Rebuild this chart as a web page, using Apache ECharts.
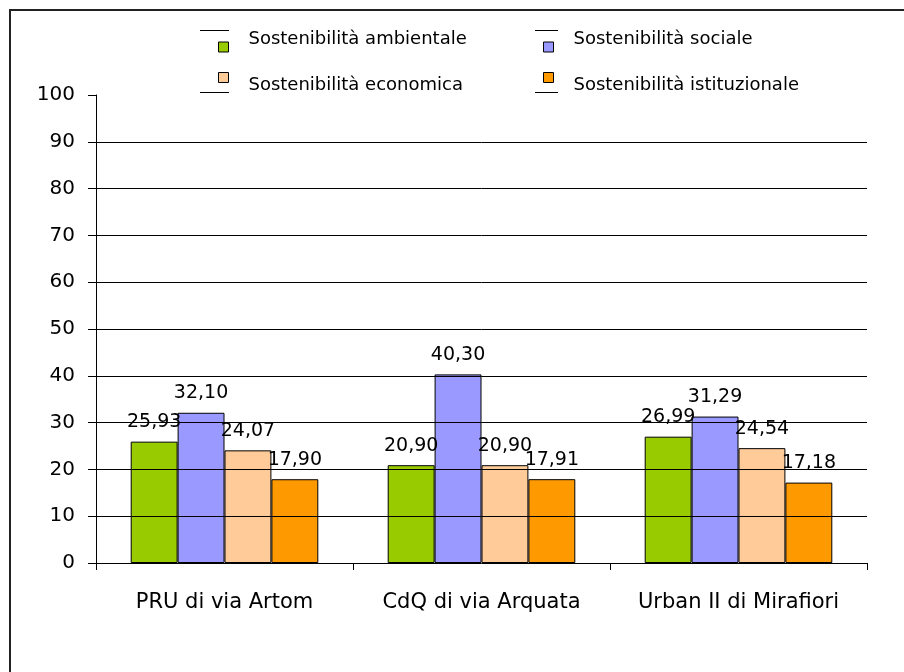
<!DOCTYPE html>
<html><head><meta charset="utf-8">
<script src="https://cdn.jsdelivr.net/npm/echarts@6/dist/echarts.min.js"></script>
<style>html,body{margin:0;padding:0;background:#fff}#c{width:904px;height:672px}</style>
</head><body><div id="c"></div>
<script>
const categories = ["PRU di via Artom", "CdQ di via Arquata", "Urban II di Mirafiori"];
const seriesNames = ["Sostenibilità ambientale", "Sostenibilità sociale", "Sostenibilità economica", "Sostenibilità istituzionale"];
const ambientale = [25.93, 20.90, 26.99];
const sociale = [32.10, 40.30, 31.29];
const economica = [24.07, 20.90, 24.54];
const istituzionale = [17.90, 17.91, 17.18];
const colors = ["#99cc00", "#9999ff", "#ffcc99", "#ff9900"];
const gridValues = [10, 20, 30, 40, 50, 60, 70, 80, 90];

const values = [ambientale, sociale, economica, istituzionale];
const font = "DejaVu Sans";
const chart = echarts.init(document.getElementById('c'));
// [left, top, row]
const legendPos = [[218, 30, 'up'], [543, 30, 'up'], [218, 72, 'down'], [543, 72, 'down']];
const series = values.map((v, i) => ({
  name: seriesNames[i], type: 'bar', data: v, barGap: '0%', barCategoryGap: '27%',
  itemStyle: { color: colors[i], borderColor: '#000', borderWidth: 1 },
  label: { show: true, position: 'top', distance: 10, color: '#000', fontFamily: font, fontSize: 19,
    formatter: p => p.value.toFixed(2).replace('.', ',') },
  markLine: i === 0 ? { silent: true, symbol: 'none', animation: false,
    lineStyle: { color: '#000', width: 1, type: 'solid' }, label: { show: false },
    data: gridValues.map(g => ({ yAxis: g })) } : undefined,
  z: 3
}));
chart.setOption({
  animation: false,
  backgroundColor: '#fff',
  grid: { left: 96, right: 37, top: 95, bottom: 109 },
  legend: seriesNames.map((n, i) => ({
    data: [n], left: legendPos[i][0], top: legendPos[i][1], padding: 0, itemWidth: 10, itemHeight: 10,
    icon: 'rect', itemGap: 0,
    itemStyle: { borderColor: '#000', borderWidth: 1 },
    formatter: name => '{' + legendPos[i][2] + '|' + name + '}',
    textStyle: { fontFamily: font, fontSize: 18, color: '#000',
      rich: {
        up: { fontFamily: font, fontSize: 18, color: '#000', padding: [0, 0, 16, 15] },
        down: { fontFamily: font, fontSize: 18, color: '#000', padding: [16, 0, 0, 15] }
      } },
    selectedMode: false
  })),
  xAxis: { type: 'category', data: categories,
    axisLine: { lineStyle: { color: '#000', width: 1 } },
    axisTick: { show: true, inside: false, length: 7, interval: 0, lineStyle: { color: '#000' } },
    axisLabel: { color: '#000', fontFamily: font, fontSize: 21, margin: 29, interval: 0, hideOverlap: false } },
  yAxis: { type: 'value', min: 0, max: 100, interval: 10,
    axisLine: { show: true, lineStyle: { color: '#000', width: 1 } },
    axisTick: { show: true, length: 8, lineStyle: { color: '#000' } },
    splitLine: { show: false },
    axisLabel: { color: '#000', fontFamily: font, fontSize: 20, margin: 21 } },
  series: series,
  graphic: [
    { type: 'rect', shape: { x: 10, y: 10, width: 1000, height: 1000 }, style: { fill: 'none', stroke: '#222', lineWidth: 2 } },
    { type: 'line', shape: { x1: 200, y1: 30.5, x2: 229, y2: 30.5 }, style: { stroke: '#000', lineWidth: 1 } },
    { type: 'line', shape: { x1: 535, y1: 30.5, x2: 558, y2: 30.5 }, style: { stroke: '#000', lineWidth: 1 } },
    { type: 'line', shape: { x1: 200, y1: 92.5, x2: 229, y2: 92.5 }, style: { stroke: '#000', lineWidth: 1 } },
    { type: 'line', shape: { x1: 535, y1: 92.5, x2: 558, y2: 92.5 }, style: { stroke: '#000', lineWidth: 1 } }
  ]
});
</script></body></html>
